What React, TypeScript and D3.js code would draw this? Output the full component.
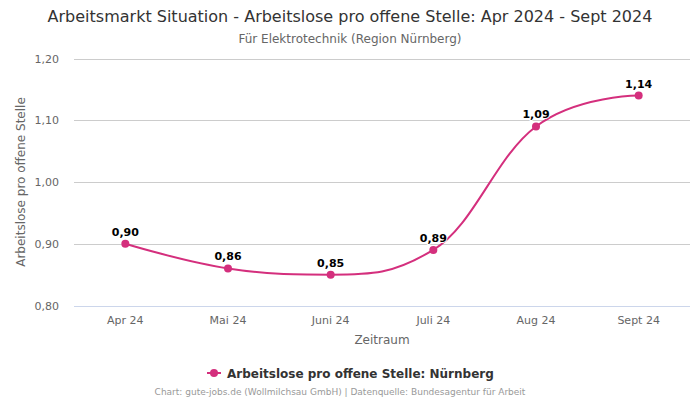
import React from "react";
import * as d3 from "d3";

const categories = ["Apr 24", "Mai 24", "Juni 24", "Juli 24", "Aug 24", "Sept 24"];
const values = [0.9, 0.86, 0.85, 0.89, 1.09, 1.14];
const yTicks = [0.8, 0.9, 1.0, 1.1, 1.2];

const W = 700, H = 400;
const left = 74, right = 690, top = 58.5, bottom = 305.5;
const color = "#d42f7d";
const font = "'DejaVu Sans', Arial, sans-serif";

function splinePath(pts: [number, number][]): string {
  const smoothing = 1.5, denom = smoothing + 1;
  const ctrl: { lx: number; ly: number; rx: number; ry: number }[] = pts.map(([x, y]) => ({ lx: x, ly: y, rx: x, ry: y }));
  for (let i = 1; i < pts.length - 1; i++) {
    const [px, py] = pts[i];
    const [lastX, lastY] = pts[i - 1];
    const [nextX, nextY] = pts[i + 1];
    let lx = (smoothing * px + lastX) / denom;
    let ly = (smoothing * py + lastY) / denom;
    let rx = (smoothing * px + nextX) / denom;
    let ry = (smoothing * py + nextY) / denom;
    if (rx !== lx) {
      const corr = ((ry - ly) * (rx - px)) / (rx - lx) + py - ry;
      ly += corr;
      ry += corr;
    }
    if (ly > lastY && ly > py) { ly = Math.max(lastY, py); ry = 2 * py - ly; }
    else if (ly < lastY && ly < py) { ly = Math.min(lastY, py); ry = 2 * py - ly; }
    if (ry > nextY && ry > py) { ry = Math.max(nextY, py); ly = 2 * py - ry; }
    else if (ry < nextY && ry < py) { ry = Math.min(nextY, py); ly = 2 * py - ry; }
    ctrl[i] = { lx, ly, rx, ry };
  }
  let d = `M${pts[0][0]},${pts[0][1]}`;
  for (let i = 1; i < pts.length; i++) {
    d += `C${ctrl[i - 1].rx},${ctrl[i - 1].ry},${ctrl[i].lx},${ctrl[i].ly},${pts[i][0]},${pts[i][1]}`;
  }
  return d;
}

export default function App() {
  const x = d3.scaleBand<string>().domain(categories).range([left, right]);
  const y = d3.scaleLinear().domain([0.8, 1.2]).range([bottom, top]);
  const pts: [number, number][] = values.map((v, i) => [x(categories[i])! + x.bandwidth() / 2, y(v)]);
  const fmt = (v: number) => v.toFixed(2).replace(".", ",");
  return (
    <svg width={W} height={H} style={{ position: "absolute", left: 0, top: 0, fontFamily: font }}>
      <rect width={W} height={H} fill="#fff" />
      <text x={350} y={22} textAnchor="middle" fontSize={16} fill="#333">
        Arbeitsmarkt Situation - Arbeitslose pro offene Stelle: Apr 2024 - Sept 2024
      </text>
      <text x={350} y={43} textAnchor="middle" fontSize={12} fill="#666">
        Für Elektrotechnik (Region Nürnberg)
      </text>
      {yTicks.map((t) => (
        <g key={t}>
          <line x1={left} x2={right} y1={Math.round(y(t)) + 0.5} y2={Math.round(y(t)) + 0.5} stroke={t === 0.8 ? "#ccd6eb" : "#cccccc"} strokeWidth={1} />
          <text x={59} y={y(t) + 4} textAnchor="end" fontSize={11} fill="#666">
            {fmt(t)}
          </text>
        </g>
      ))}
      {categories.map((c) => (
        <text key={c} x={x(c)! + x.bandwidth() / 2} y={324} textAnchor="middle" fontSize={11} fill="#666">
          {c}
        </text>
      ))}
      <text x={382} y={344} textAnchor="middle" fontSize={12} fill="#666">Zeitraum</text>
      <text transform={`translate(25,${(top + bottom) / 2}) rotate(-90)`} textAnchor="middle" fontSize={12} fill="#666">
        Arbeitslose pro offene Stelle
      </text>
      <path d={splinePath(pts)} fill="none" stroke={color} strokeWidth={2} strokeLinejoin="round" strokeLinecap="round" />
      {pts.map(([px, py], i) => (
        <g key={i}>
          <circle cx={px} cy={py} r={4} fill={color} />
          <text x={px} y={py - 8} textAnchor="middle" fontSize={11} fontWeight="bold" fill="#000" stroke="#fff" strokeWidth={2} paintOrder="stroke" strokeLinejoin="round">
            {fmt(values[i])}
          </text>
        </g>
      ))}
      <g>
        <line x1={207} x2={221} y1={373} y2={373} stroke={color} strokeWidth={2} />
        <circle cx={214} cy={373} r={4} fill={color} />
        <text x={227} y={377.5} fontSize={12} fontWeight="bold" fill="#333">
          Arbeitslose pro offene Stelle: Nürnberg
        </text>
      </g>
      <text x={340} y={395} textAnchor="middle" fontSize={9} fill="#999">
        Chart: gute-jobs.de (Wollmilchsau GmbH) | Datenquelle: Bundesagentur für Arbeit
      </text>
    </svg>
  );
}
